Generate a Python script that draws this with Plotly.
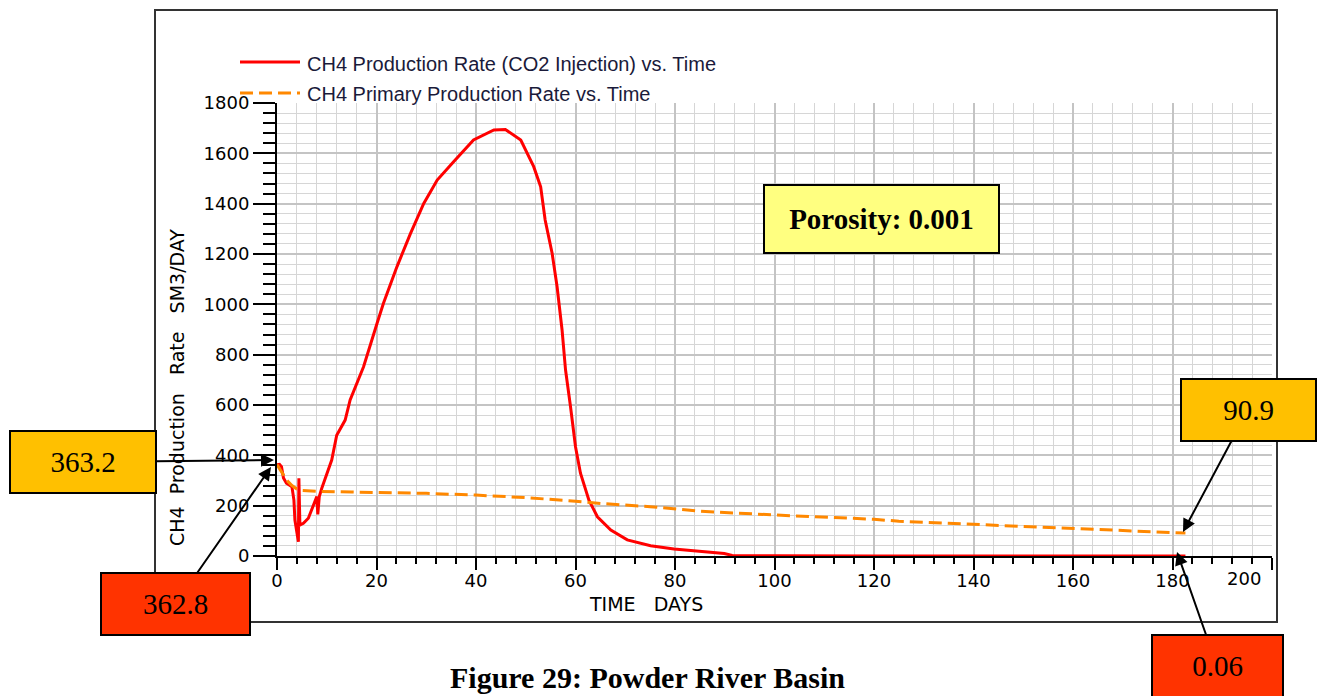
import plotly.graph_objects as go

# CH4 production rate with CO2 injection (SM3/DAY) vs. time (days)
co2_days = [0, 0.5, 0.9, 1.3, 1.9, 3.0, 3.4, 3.6, 4.3, 4.4, 4.6, 5.3, 6.3, 7.3, 8.0,
            8.2, 8.5, 9.0, 10.0, 11.0, 12.0, 13.7, 14.7, 17.4, 20.1, 21.4, 24.1, 26.8,
            29.5, 32.2, 35.5, 39.5, 43.6, 45.9, 49.0, 51.6, 53.0, 53.9, 55.3, 56.3,
            57.3, 58.0, 59.0, 60.0, 61.0, 62.7, 64.4, 67.1, 70.4, 75.1, 79.8, 85.9,
            89.9, 91.5, 100, 120, 140, 160, 182.6]
co2_rate = [362.8, 364, 355, 310, 289, 275, 222, 143, 57, 309, 123, 130, 150, 203, 236,
            165, 236, 269, 329, 381, 480, 540, 620, 752, 924, 1004, 1149, 1280,
            1401, 1494, 1567, 1653, 1693, 1695, 1653, 1547, 1467, 1335, 1203, 1070,
            898, 739, 593, 434, 329, 222, 156, 103, 64, 41, 28, 17,
            10, 2, 0.5, 0.2, 0.1, 0.08, 0.06]

# CH4 primary production rate (SM3/DAY) vs. time (days)
primary_days = [0, 1.0, 2.0, 3.0, 4.0, 5.0, 8.0, 15, 22, 30, 40, 50, 60, 65, 75, 85,
                100, 110, 120, 125, 139, 150, 159, 170, 182.6]
primary_rate = [363.2, 330, 300, 280, 266, 260, 257, 254, 252, 249, 242, 232, 218, 209,
                196, 178, 163, 155, 146, 138, 127, 118, 110, 101, 90.9]

series_names = ["CH4 Production Rate (CO2 Injection) vs. Time",
                "CH4 Primary Production Rate vs. Time"]
x_ticks = [0, 20, 40, 60, 80, 100, 120, 140, 160, 180, 200]
y_ticks = [0, 200, 400, 600, 800, 1000, 1200, 1400, 1600, 1800]

RED = "#ff0000"
ORANGE = "#ff8800"
TEXT_NAVY = "#1a1a3a"

W_FIG, H_FIG = 1329, 696
L, R, T, B = 277, 1272, 103, 556


def pxx(x):
    return (x - L) / (R - L)


def pxy(y):
    return (B - y) / (B - T)


fig = go.Figure()
fig.add_trace(go.Scatter(x=co2_days, y=co2_rate, mode="lines", name=series_names[0],
                         line=dict(color=RED, width=3)))
fig.add_trace(go.Scatter(x=primary_days, y=primary_rate, mode="lines", name=series_names[1],
                         line=dict(color=ORANGE, width=3, dash="13px,6px")))

tick_font = dict(family="DejaVu Sans", size=18, color="black")

# the last x label is drawn separately, pulled in from the right edge
x_ticktext = [str(v) for v in x_ticks[:-1]] + [""]

fig.update_xaxes(
    range=[0, 200], tickvals=x_ticks, ticktext=x_ticktext,
    ticks="outside", ticklen=12, tickwidth=2, tickcolor="black",
    showline=True, linecolor="black", linewidth=2, ticklabelstandoff=-5,
    showgrid=True, gridcolor="#c4c4c4", gridwidth=2, zeroline=False,
    tickfont=tick_font,
    minor=dict(dtick=4, tick0=0, ticks="outside", ticklen=6, tickwidth=1.5,
               tickcolor="black", showgrid=True, gridcolor="#d6d6d6", gridwidth=1),
)
fig.update_yaxes(
    range=[0, 1800], tickvals=y_ticks, ticktext=[str(v) for v in y_ticks],
    ticks="outside", ticklen=22, tickwidth=2, tickcolor="black",
    showline=True, linecolor="black", linewidth=2,
    showgrid=True, gridcolor="#c4c4c4", gridwidth=2, zeroline=False,
    tickfont=tick_font,
    minor=dict(dtick=40, tick0=0, ticks="outside", ticklen=12, tickwidth=1.5,
               tickcolor="black", showgrid=True, gridcolor="#d6d6d6", gridwidth=1),
)

shapes = [
    # outer frame around the chart
    dict(type="rect", xref="paper", yref="paper",
         x0=pxx(155), x1=pxx(1277), y0=pxy(622), y1=pxy(10),
         line=dict(color="#333333", width=2), fillcolor="rgba(0,0,0,0)", layer="below"),
    # legend line samples
    dict(type="line", xref="paper", yref="paper",
         x0=pxx(240), x1=pxx(300), y0=pxy(62), y1=pxy(62),
         line=dict(color=RED, width=3)),
    dict(type="line", xref="paper", yref="paper",
         x0=pxx(240), x1=pxx(300), y0=pxy(93), y1=pxy(93),
         line=dict(color=ORANGE, width=3, dash="13px,6px")),
]

legend_font = dict(family="Liberation Sans", size=20, color=TEXT_NAVY)
annotations = [
    dict(x=pxx(305), y=pxy(64), xref="paper", yref="paper", text=series_names[0],
         showarrow=False, xanchor="left", yanchor="middle", font=legend_font),
    dict(x=pxx(305), y=pxy(94), xref="paper", yref="paper", text=series_names[1],
         showarrow=False, xanchor="left", yanchor="middle", font=legend_font),
    # right-most x tick label
    dict(x=x_ticks[-1], y=0, xref="x", yref="paper", text=str(x_ticks[-1]),
         showarrow=False, xanchor="center", yanchor="top", xshift=-28, yshift=-10,
         font=tick_font),
    # axis titles
    dict(x=pxx(177), y=pxy(388), xref="paper", yref="paper",
         text="CH4\u00a0\u00a0Production\u00a0\u00a0\u00a0Rate\u00a0\u00a0\u00a0SM3/DAY",
         textangle=-90, showarrow=False, xanchor="center", yanchor="middle",
         font=dict(family="DejaVu Sans", size=19, color="black")),
    dict(x=pxx(646), y=pxy(604), xref="paper", yref="paper",
         text="TIME\u00a0\u00a0\u00a0DAYS", showarrow=False,
         xanchor="center", yanchor="middle",
         font=dict(family="DejaVu Sans", size=19, color="black")),
    # porosity note
    dict(x=pxx(881.5), y=pxy(219), xref="paper", yref="paper",
         text="<b>Porosity: 0.001</b>", showarrow=False,
         xanchor="center", yanchor="middle", width=233, height=66, borderpad=0,
         bgcolor="#ffff80", bordercolor="black", borderwidth=2,
         font=dict(family="Liberation Serif", size=29, color="black")),
    # caption
    dict(x=pxx(647), y=pxy(677), xref="paper", yref="paper",
         text="<b>Figure 29: Powder River Basin</b>", showarrow=False,
         xanchor="center", yanchor="middle",
         font=dict(family="Liberation Serif", size=30, color="black")),
]

# value call-outs: (text, box centre px, box size px, arrow tip px, fill)
callouts = [
    (f"{primary_rate[0]}", (83, 462), (146, 62), (274, 460), "#ffc000"),
    (f"{co2_rate[0]}", (175.5, 604), (149, 62), (271, 467), "#ff3300"),
    (f"{primary_rate[-1]}", (1248, 410), (135, 62), (1183, 532), "#ffc000"),
    (f"{co2_rate[-1]}", (1217, 666), (131, 62), (1177, 552), "#ff3300"),
]
for text, (cx, cy), (bw, bh), (tx, ty), fill in callouts:
    annotations.append(dict(
        x=pxx(tx), y=pxy(ty), xref="paper", yref="paper",
        ax=cx - tx, ay=cy - ty, axref="pixel", ayref="pixel",
        text=text, showarrow=True, arrowhead=2, arrowsize=1.3, arrowwidth=2,
        arrowcolor="black", width=bw - 2, height=bh - 2, borderpad=0,
        bgcolor=fill, bordercolor="black", borderwidth=2,
        font=dict(family="Liberation Serif", size=29, color="black"),
    ))

fig.update_layout(
    width=W_FIG, height=H_FIG,
    margin=dict(l=L, r=W_FIG - R, t=T, b=H_FIG - B),
    paper_bgcolor="white", plot_bgcolor="white",
    showlegend=False, shapes=shapes, annotations=annotations,
)

fig.write_html("out.html")
